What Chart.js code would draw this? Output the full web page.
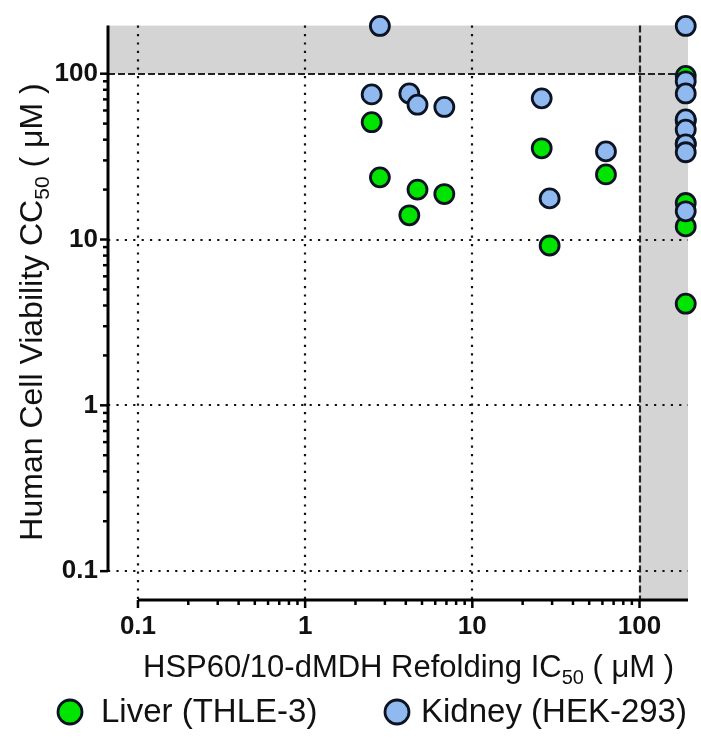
<!DOCTYPE html>
<html>
<head>
<meta charset="utf-8">
<script src="https://cdn.jsdelivr.net/npm/chart.js@4"></script>
<style>
  html, body { margin: 0; padding: 0; background: #fff; }
  #wrap { width: 701px; height: 747px; position: relative; }
</style>
</head>
<body>
<div id="wrap"><canvas id="chart"></canvas></div>
<script>
// IC50 (x) vs CC50 (y), uM
const liverX = [2.5, 2.8, 4.7, 6.8, 4.2, 26, 63, 29, 189, 189, 189, 189, 189, 189];
const liverY = [51, 23.7, 20, 18.8, 14, 35.5, 24.7, 9.2, 97, 52, 38, 16.6, 12, 4.1];
const kidneyX = [2.8, 2.5, 4.2, 4.7, 6.8, 26, 63, 29, 189, 189, 189, 189, 189, 189, 189, 189];
const kidneyY = [194, 75, 76, 65, 63, 71, 34, 17.7, 194, 90, 76, 53, 46, 37.5, 33.6, 14.8];

const decades = [0.1, 1, 10, 100];
const threshold = 100;
const legendLabels = ['Liver (THLE-3)', 'Kidney (HEK-293)'];
const xTitle = ['HSP60/10-dMDH Refolding IC', '50', ' ( \u03bcM )'];
const yTitle = ['Human Cell Viability CC', '50', ' ( \u03bcM )'];

const GREEN = '#00e400';
const BLUE = '#90b9ef';
const EDGE = '#0c1322';
const INK = '#111';
const TICK_FONT = { family: "'Liberation Sans Narrow', 'Arial Narrow', Arial", size: 26, weight: 'bold' };

const pts = (xs, ys) => xs.map((x, i) => ({ x: x, y: ys[i] }));

// draws "main + subscript + rest" starting at x
function drawSubText(ctx, parts, x, y, size) {
  const big = size + 'px Arial', small = Math.round(size * 0.66) + 'px Arial';
  ctx.font = big; ctx.fillText(parts[0], x, y);
  x += ctx.measureText(parts[0]).width;
  ctx.font = small; ctx.fillText(parts[1], x, y + size * 0.22);
  x += ctx.measureText(parts[1]).width;
  ctx.font = big; ctx.fillText(parts[2], x, y);
}
function subTextWidth(ctx, parts, size) {
  ctx.font = size + 'px Arial';
  let w = ctx.measureText(parts[0]).width + ctx.measureText(parts[2]).width;
  ctx.font = Math.round(size * 0.66) + 'px Arial';
  return w + ctx.measureText(parts[1]).width;
}

const prismAxes = {
  id: 'prismAxes',
  beforeDraw(chart) {
    const { ctx, chartArea: a, scales: { x, y } } = chart;
    const x100 = x.getPixelForValue(threshold), y100 = y.getPixelForValue(threshold);
    ctx.save();
    ctx.fillStyle = '#d4d4d4';
    ctx.fillRect(a.left, a.top, a.right - a.left, y100 - a.top);
    ctx.fillRect(x100, a.top, a.right - x100, a.bottom - a.top);
    ctx.restore();
  },
  beforeDatasetsDraw(chart) {
    const { ctx, chartArea: a, scales: { x, y } } = chart;
    ctx.save();
    // dotted grid at decades
    ctx.strokeStyle = INK; ctx.lineWidth = 2.2; ctx.setLineDash([2.2, 6.2]);
    decades.filter(v => v < threshold).forEach(v => {
      const px = Math.round(x.getPixelForValue(v)), py = Math.round(y.getPixelForValue(v));
      ctx.beginPath(); ctx.moveTo(px, a.top); ctx.lineTo(px, a.bottom); ctx.stroke();
      ctx.beginPath(); ctx.moveTo(a.left, py); ctx.lineTo(a.right, py); ctx.stroke();
    });
    // dashed 100 uM cut-offs
    ctx.strokeStyle = '#222'; ctx.setLineDash([7, 3]);
    const x100 = Math.round(x.getPixelForValue(threshold)), y100 = Math.round(y.getPixelForValue(threshold));
    ctx.beginPath(); ctx.moveTo(a.left, y100); ctx.lineTo(a.right, y100); ctx.stroke();
    ctx.beginPath(); ctx.moveTo(x100, a.top); ctx.lineTo(x100, a.bottom); ctx.stroke();
    // offset axes
    ctx.setLineDash([]); ctx.strokeStyle = '#000'; ctx.lineWidth = 3;
    const x0 = x.getPixelForValue(decades[0]), y0 = y.getPixelForValue(decades[0]);
    ctx.beginPath(); ctx.moveTo(a.left, a.top); ctx.lineTo(a.left, y0); ctx.stroke();
    ctx.beginPath(); ctx.moveTo(x0, a.bottom); ctx.lineTo(a.right, a.bottom); ctx.stroke();
    ctx.lineWidth = 2.5;
    for (let k = -1; k <= 2; k++) {
      for (let m = 1; m <= 9; m++) {
        const v = m * Math.pow(10, k);
        const len = m === 1 ? 8 : 5;
        if (v <= y.max) {
          const py = y.getPixelForValue(v);
          ctx.beginPath(); ctx.moveTo(a.left, py); ctx.lineTo(a.left - len, py); ctx.stroke();
        }
        if (v <= x.max) {
          const px = x.getPixelForValue(v);
          ctx.beginPath(); ctx.moveTo(px, a.bottom); ctx.lineTo(px, a.bottom + len); ctx.stroke();
        }
      }
    }
    ctx.restore();
  },
  afterDraw(chart) {
    const { ctx } = chart;
    ctx.save();
    ctx.fillStyle = INK; ctx.textBaseline = 'alphabetic'; ctx.textAlign = 'left';
    // x title
    drawSubText(ctx, xTitle, 143, 677, 31);
    // y title
    const wy = subTextWidth(ctx, yTitle, 32);
    ctx.translate(42, 312 + wy / 2);
    ctx.rotate(-Math.PI / 2);
    drawSubText(ctx, yTitle, 0, 0, 32);
    ctx.restore();

    // legend
    ctx.save();
    const items = [[70, 101], [397, 421]];
    chart.data.datasets.forEach((ds, i) => {
      const [cx, tx] = items[i];
      ctx.beginPath(); ctx.arc(cx, 712, 12, 0, Math.PI * 2);
      ctx.fillStyle = ds.backgroundColor; ctx.fill();
      ctx.lineWidth = 2.8; ctx.strokeStyle = ds.borderColor; ctx.stroke();
      ctx.fillStyle = INK; ctx.font = '33px Arial'; ctx.textBaseline = 'middle';
      ctx.fillText(ds.label, tx, 713);
    });
    ctx.restore();
  }
};

new Chart(document.getElementById('chart'), {
  type: 'scatter',
  data: {
    datasets: [
      { label: legendLabels[0], data: pts(liverX, liverY), backgroundColor: GREEN, borderColor: EDGE,
        borderWidth: 2.8, pointRadius: 9.5, pointHoverRadius: 9.5, order: 1, clip: false },
      { label: legendLabels[1], data: pts(kidneyX, kidneyY), backgroundColor: BLUE, borderColor: EDGE,
        borderWidth: 2.8, pointRadius: 9.5, pointHoverRadius: 9.5, order: 0, clip: false }
    ]
  },
  options: {
    responsive: true,
    maintainAspectRatio: false,
    animation: false,
    layout: { padding: { top: 24, right: 13, bottom: 107, left: 0 } },
    plugins: { legend: { display: false }, tooltip: { enabled: false } },
    scales: {
      x: {
        type: 'logarithmic', min: 0.0662, max: 195,
        grid: { display: false, drawTicks: false }, border: { display: false },
        afterBuildTicks: s => { s.ticks = decades.map(v => ({ value: v })); },
        afterFit: s => { s.height = 40; },
        ticks: { padding: 11, color: INK, font: TICK_FONT,
                 maxRotation: 0, autoSkip: false, callback: v => String(v) }
      },
      y: {
        type: 'logarithmic', min: 0.067, max: 195,
        grid: { display: false, drawTicks: false }, border: { display: false },
        afterBuildTicks: s => { s.ticks = decades.map(v => ({ value: v })); },
        afterFit: s => { s.width = 108; },
        ticks: { padding: 10, color: INK, font: TICK_FONT,
                 autoSkip: false, callback: v => String(v) }
      }
    }
  },
  plugins: [prismAxes]
});
</script>
</body>
</html>
